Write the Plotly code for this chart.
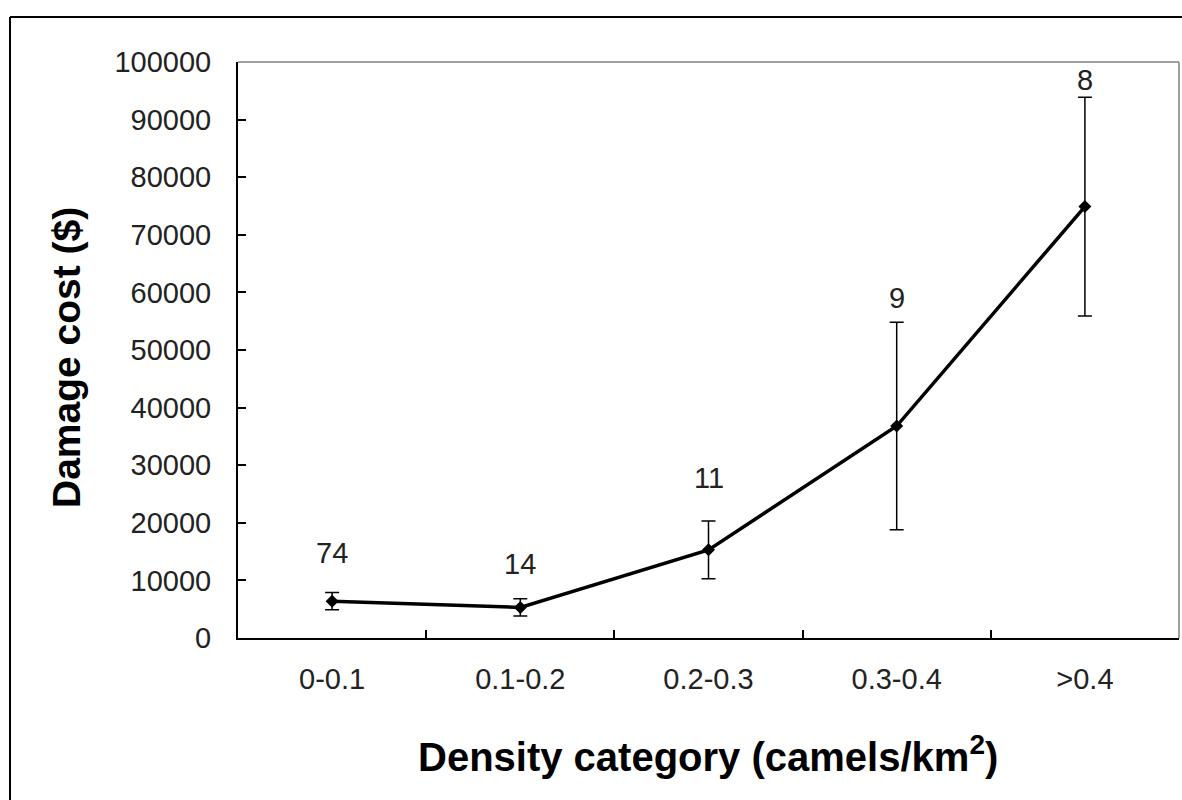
import plotly.graph_objects as go

# ---- data ----
categories = ["0-0.1", "0.1-0.2", "0.2-0.3", "0.3-0.4", ">0.4"]
mean_cost = [6400, 5300, 15300, 36800, 74900]
std_err = [1500, 1500, 5000, 18000, 19000]
sample_n = ["74", "14", "11", "9", "8"]
label_y = [14700, 12900, 27800, 59100, 96800]
y_ticks = list(range(0, 100001, 10000))

# ---- layout geometry (pixels) ----
W, H = 1182, 800
L, R, T, B = 238, 1179, 62, 638


def px_x(p):
    return (p - L) / (R - L)


def px_y(p):
    return (B - p) / (B - T)


FONT = "Liberation Sans, Arial, sans-serif"

fig = go.Figure()
fig.add_trace(go.Scatter(
    x=categories,
    y=mean_cost,
    mode="lines+markers",
    line=dict(color="black", width=3.5),
    marker=dict(symbol="diamond", size=10, color="black"),
    error_y=dict(type="data", array=std_err, visible=True,
                 color="black", thickness=1.5, width=7),
    showlegend=False,
    hoverinfo="x+y",
))

annotations = []
for c, n, ly in zip(categories, sample_n, label_y):
    annotations.append(dict(
        x=c, y=ly, xref="x", yref="y", text=n, showarrow=False,
        xanchor="center", yanchor="middle",
        font=dict(family=FONT, size=29, color="#222222"),
    ))

annotations.append(dict(
    x=px_x(708), y=px_y(754), xref="paper", yref="paper",
    text="<b>Density category (camels/km<sup>2</sup>)</b>",
    showarrow=False, xanchor="center", yanchor="middle",
    font=dict(family=FONT, size=40, color="black"),
))
annotations.append(dict(
    x=px_x(66), y=px_y(358), xref="paper", yref="paper",
    text="<b>Damage cost ($)</b>", textangle=-90,
    showarrow=False, xanchor="center", yanchor="middle",
    font=dict(family=FONT, size=39, color="black"),
))

shapes = [
    # plot-area top and right border (gray)
    dict(type="line", xref="paper", yref="paper", x0=0, x1=1, y0=1, y1=1,
         line=dict(color="#a0a0a0", width=2)),
    dict(type="line", xref="paper", yref="paper", x0=1, x1=1, y0=0, y1=1,
         line=dict(color="#a0a0a0", width=2)),
    # outer chart frame (left and top visible)
    dict(type="line", xref="paper", yref="paper",
         x0=px_x(10), x1=px_x(10), y0=px_y(17), y1=px_y(805),
         line=dict(color="black", width=2)),
    dict(type="line", xref="paper", yref="paper",
         x0=px_x(10), x1=px_x(1190), y0=px_y(17), y1=px_y(17),
         line=dict(color="black", width=2)),
]

fig.update_layout(
    width=W, height=H,
    margin=dict(l=L, r=W - R, t=T, b=H - B, pad=0),
    paper_bgcolor="white", plot_bgcolor="white",
    font=dict(family=FONT, color="#222222"),
    annotations=annotations,
    shapes=shapes,
    xaxis=dict(
        type="category", range=[-0.5, 4.5],
        showgrid=False, zeroline=False,
        showline=True, linecolor="black", linewidth=2,
        ticks="inside", ticklen=8, tickwidth=2, tickcolor="black",
        tickson="boundaries",
        tickfont=dict(family=FONT, size=29, color="#222222"),
        ticklabelstandoff=14,
    ),
    yaxis=dict(
        range=[0, 100000], tickvals=y_ticks,
        ticktext=[str(v) for v in y_ticks],
        showgrid=False, zeroline=False,
        showline=True, linecolor="black", linewidth=2,
        ticks="inside", ticklen=8, tickwidth=2, tickcolor="black",
        tickfont=dict(family=FONT, size=29, color="#222222"),
        ticklabelstandoff=19,
    ),
)

fig.write_html("out.html")
